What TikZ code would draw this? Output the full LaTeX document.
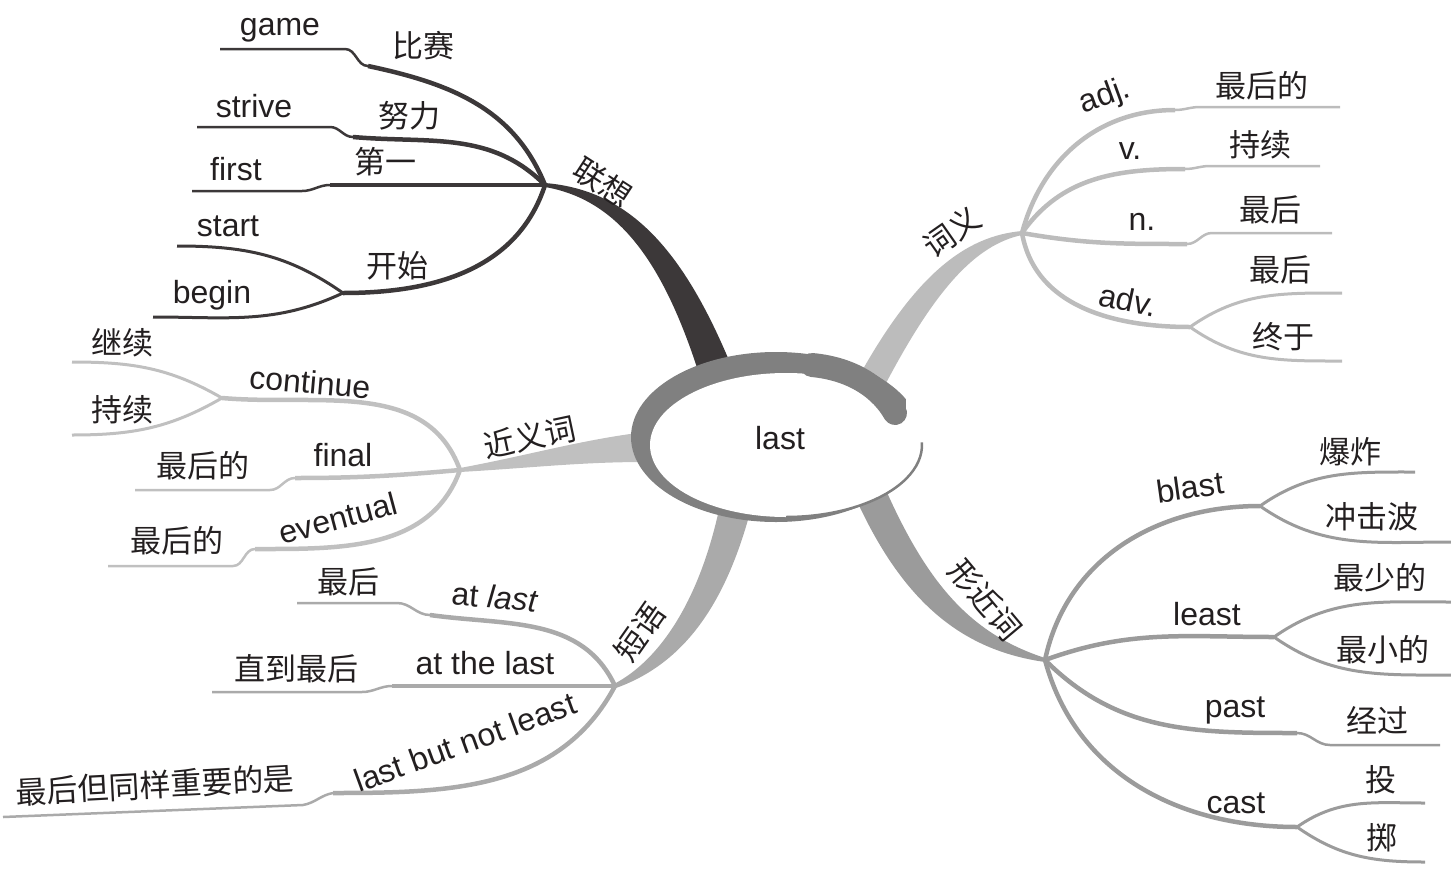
\documentclass[tikz,border=0pt]{standalone}
\usepackage{fontspec}
\setmainfont{Liberation Sans}
\newfontfamily\cjk{Noto Sans CJK SC}
\definecolor{ringgray}{RGB}{128,128,128}
\definecolor{lxcol}{RGB}{60,56,57}
\definecolor{cycol}{RGB}{188,188,188}
\definecolor{jycol}{RGB}{192,192,192}
\definecolor{dycol}{RGB}{170,170,170}
\definecolor{xjcol}{RGB}{155,155,155}
\definecolor{txtcol}{RGB}{35,31,32}

\begin{document}
\begin{tikzpicture}[x=1pt, y=1pt,
    en/.style={font=\fontsize{32}{36}\selectfont, text=txtcol, inner sep=0pt},
    zh/.style={font=\cjk\fontsize{31}{36}\selectfont, text=txtcol, inner sep=0pt},
    thick branch/.style={line width=4.5pt},
    mid branch/.style={line width=3pt},
    thin branch/.style={line width=2.5pt}]
    \useasboundingbox (0,-873) rectangle (1451,0);

    % --- HUBS ---
    \coordinate (lx) at (545,-185);
    \coordinate (cy) at (1022,-233);
    \coordinate (jy) at (460,-470);
    \coordinate (dy) at (615,-686);
    \coordinate (xj) at (1045,-660);

    % --- MAIN BRANCHES (tapered) ---
    \fill[lxcol] ([yshift=2pt]lx) .. controls (630,-190) and (685,-250) .. (735,-375)
        -- (701,-380) .. controls (665,-265) and (620,-200) .. ([yshift=-2pt]lx) -- cycle;
    \fill[cycol] ([yshift=2pt]cy) .. controls (965,-236) and (915,-275) .. (858,-378)
        -- (885,-385) .. controls (935,-290) and (975,-245) .. ([yshift=-2pt]cy) -- cycle;
    \fill[jycol] ([yshift=2pt]jy) .. controls (530,-455) and (580,-440) .. (645,-432)
        -- (645,-462) .. controls (580,-462) and (530,-468) .. ([yshift=-2pt]jy) -- cycle;
    \fill[dycol] ([xshift=-1pt,yshift=2pt]dy) .. controls (660,-660) and (700,-600) .. (720,-505)
        -- (752,-505) .. controls (725,-610) and (680,-665) .. ([xshift=1pt,yshift=-2pt]dy) -- cycle;
    \fill[xjcol] ([yshift=-2pt]xj) .. controls (960,-650) and (900,-600) .. (852,-490)
        -- (885,-488) .. controls (930,-590) and (975,-635) .. ([yshift=2pt]xj) -- cycle;

    % --- CENTRE ---
    \fill[ringgray] (776,-437) ellipse [x radius=145, y radius=85];
    \fill[white] (786,-445) ellipse [x radius=136, y radius=72];
    \fill[white] (906,-392) -- (945,-392) -- (945,-440) -- (921,-440) -- (906,-425) -- cycle;
    \draw[ringgray, line width=2.5pt] (786,-445) ++(2:136 and 72)
        arc[start angle=2, end angle=-90, x radius=136, y radius=72];
    \draw[ringgray, line width=24pt, line cap=round] (812,-365) .. controls (855,-369) and (882,-390) .. (895,-413);
    \node[en] (last) at (780,-438) {last};

    % --- LIANXIANG ---
    \coordinate (gameK) at (368,-66);   \coordinate (gameE) at (220,-49);
    \coordinate (striveK) at (353,-137); \coordinate (striveE) at (197,-127);
    \coordinate (firstK) at (330,-185); \coordinate (firstE) at (192,-191);
    \coordinate (ksS) at (343,-293);
    \coordinate (startE) at (177,-246); \coordinate (beginE) at (153,-317);

    \draw[lxcol, thick branch] (lx) to[out=112,in=-12] (gameK);
    \draw[lxcol, thin branch] (gameE) -- ++(125,0) to[out=0,in=180] (gameK);
    \draw[lxcol, thick branch] (lx) to[out=135,in=-5] (striveK);
    \draw[lxcol, thin branch] (striveE) -- ++(133,0) to[out=0,in=180] (striveK);
    \draw[lxcol, thick branch] (lx) -- (firstK);
    \draw[lxcol, thin branch] (firstE) -- ++(110,0) to[out=0,in=180] (firstK);
    \draw[lxcol, thick branch] (lx) to[out=-108,in=0] (ksS);
    \draw[lxcol, mid branch] (ksS) to[out=145,in=0] (startE);
    \draw[lxcol, mid branch] (ksS) to[out=-155,in=0] (beginE);

    \node[zh, rotate=-33] (lianxiang) at (603,-183) {联想};
    \node[en] (game) at (280,-30) {game};
    \node[zh] (bisai) at (423,-46) {比赛};
    \node[en] (strive) at (254,-106) {strive};
    \node[zh] (nuli) at (409,-116) {努力};
    \node[en] (first) at (236,-169) {first};
    \node[zh] (diyi) at (385,-162) {第一};
    \node[en] (start) at (228,-226) {start};
    \node[en] (begin) at (212,-295) {begin};
    \node[zh] (kaishi) at (397,-266) {开始};

    % --- CIYI ---
    \coordinate (adjK) at (1175,-110); \coordinate (adjE) at (1340,-107);
    \coordinate (vK) at (1185,-169);   \coordinate (vE) at (1320,-166);
    \coordinate (nK) at (1187,-244);   \coordinate (nE) at (1332,-233);
    \coordinate (advS) at (1190,-327);
    \coordinate (zuihouE) at (1342,-293); \coordinate (zhongyuE) at (1342,-361);

    \draw[cycol, thick branch] (cy) to[out=75,in=180] (adjK);
    \draw[cycol, thin branch] (adjE) -- ++(-140,0) to[out=180,in=0] (adjK);
    \draw[cycol, thick branch] (cy) to[out=55,in=180] (vK);
    \draw[cycol, thin branch] (vE) -- ++(-110,0) to[out=180,in=0] (vK);
    \draw[cycol, thick branch] (cy) to[out=-10,in=180] (nK);
    \draw[cycol, thin branch] (nE) -- ++(-120,0) to[out=180,in=0] (nK);
    \draw[cycol, thick branch] (cy) to[out=-80,in=180] (advS);
    \draw[cycol, mid branch] (advS) to[out=35,in=180] (zuihouE);
    \draw[cycol, mid branch] (advS) to[out=-35,in=180] (zhongyuE);

    \node[zh, rotate=35] (ciyi) at (952,-232) {词义};
    \node[en, rotate=20] (adj) at (1105,-97) {adj.};
    \node[zh] (zuihoude) at (1262,-86) {最后的};
    \node[en] (v) at (1130,-151) {v.};
    \node[zh] (chixu) at (1260,-145) {持续};
    \node[en] (n) at (1142,-222) {n.};
    \node[zh] (zuihou) at (1270,-210) {最后};
    \node[en, rotate=-12] (adv) at (1128,-300) {adv.};
    \node[zh] (zuihouadv) at (1280,-270) {最后};
    \node[zh] (zhongyu) at (1283,-337) {终于};

    % --- JINYICI ---
    \coordinate (contS) at (222,-398);
    \coordinate (jixuE) at (72,-362);  \coordinate (chixuE) at (72,-435);
    \coordinate (finalK) at (295,-478); \coordinate (finalE) at (135,-490);
    \coordinate (evK) at (255,-549);   \coordinate (evE) at (108,-566);

    \draw[jycol, thick branch] (jy) to[out=110,in=-5] (contS);
    \draw[jycol, mid branch] (contS) to[out=150,in=0] (jixuE);
    \draw[jycol, mid branch] (contS) to[out=-150,in=0] (chixuE);
    \draw[jycol, thick branch] (jy) to[out=185,in=0] (finalK);
    \draw[jycol, thin branch] (finalE) -- ++(135,0) to[out=0,in=180] (finalK);
    \draw[jycol, thick branch] (jy) to[out=-110,in=0] (evK);
    \draw[jycol, thin branch] (evE) -- ++(125,0) to[out=0,in=180] (evK);

    \node[zh, rotate=12] (jinyici) at (530,-437) {近义词};
    \node[en, rotate=-5] (continue) at (310,-382) {continue};
    \node[zh] (jixu) at (122,-343) {继续};
    \node[zh] (chixuj) at (122,-410) {持续};
    \node[en] (final) at (343,-455) {final};
    \node[zh] (zuihoudef) at (203,-466) {最后的};
    \node[en, rotate=15] (eventual) at (338,-518) {eventual};
    \node[zh] (zuihoudee) at (177,-541) {最后的};

    % --- DUANYU ---
    \coordinate (alK) at (430,-615);  \coordinate (alE) at (297,-603);
    \coordinate (atlK) at (392,-686); \coordinate (atlE) at (212,-692);
    \coordinate (lbK) at (333,-793);  \coordinate (lbE) at (3,-817);

    \draw[dycol, thick branch] (dy) to[out=115,in=-8] (alK);
    \draw[dycol, thin branch] (alE) -- ++(100,0) to[out=0,in=180] (alK);
    \draw[dycol, thick branch] (dy) -- (atlK);
    \draw[dycol, thin branch] (atlE) -- ++(150,0) to[out=0,in=180] (atlK);
    \draw[dycol, thick branch] (dy) to[out=-118,in=0] (lbK);
    \draw[dycol, thin branch] (lbE) -- ++(300,12) to[out=10,in=190] (lbK);

    \node[zh, rotate=55] (duanyu) at (640,-632) {短语};
    \node[en, rotate=-5] (atlast) at (495,-597) {at \textit{last}};
    \node[zh] (zuihoud) at (348,-582) {最后};
    \node[en] (atthelast) at (485,-663) {at the last};
    \node[zh] (zhidao) at (296,-669) {直到最后};
    \node[en, rotate=20] (lbnl) at (465,-742) {last but not least};
    \node[zh, rotate=3] (zuihoudan) at (155,-785) {最后但同样重要的是};

    % --- XINGJINCI ---
    \coordinate (blS) at (1260,-506);
    \coordinate (baozhaE) at (1415,-472); \coordinate (chongE) at (1451,-542);
    \coordinate (leS) at (1274,-637);
    \coordinate (zuishaoE) at (1451,-602); \coordinate (zuixiaoE) at (1451,-675);
    \coordinate (paK) at (1297,-733); \coordinate (paE) at (1440,-745);
    \coordinate (caS) at (1297,-827);
    \coordinate (touE) at (1425,-803); \coordinate (zhiE) at (1425,-862);

    \draw[xjcol, thick branch] (xj) to[out=78,in=180] (blS);
    \draw[xjcol, mid branch] (blS) to[out=35,in=180] (baozhaE);
    \draw[xjcol, mid branch] (blS) to[out=-35,in=180] (chongE);
    \draw[xjcol, thick branch] (xj) to[out=20,in=180] (leS);
    \draw[xjcol, mid branch] (leS) to[out=35,in=180] (zuishaoE);
    \draw[xjcol, mid branch] (leS) to[out=-35,in=180] (zuixiaoE);
    \draw[xjcol, thick branch] (xj) to[out=-45,in=180] (paK);
    \draw[xjcol, thin branch] (paE) -- ++(-110,0) to[out=180,in=0] (paK);
    \draw[xjcol, thick branch] (xj) to[out=-75,in=180] (caS);
    \draw[xjcol, mid branch] (caS) to[out=35,in=180] (touE);
    \draw[xjcol, mid branch] (caS) to[out=-35,in=180] (zhiE);

    \node[zh, rotate=-50] (xingjinci) at (985,-600) {形近词};
    \node[en, rotate=8] (blast) at (1190,-487) {blast};
    \node[zh] (baozha) at (1350,-452) {爆炸};
    \node[zh] (chongjibo) at (1372,-517) {冲击波};
    \node[en] (least) at (1207,-614) {least};
    \node[zh] (zuishao) at (1380,-578) {最少的};
    \node[zh] (zuixiao) at (1383,-650) {最小的};
    \node[en] (past) at (1235,-710) {past};
    \node[zh] (jingguo) at (1377,-720) {经过};
    \node[en] (cast) at (1236,-803) {cast};
    \node[zh] (tou) at (1381,-780) {投};
    \node[zh] (zhi) at (1382,-838) {掷};
\end{tikzpicture}
\end{document}
